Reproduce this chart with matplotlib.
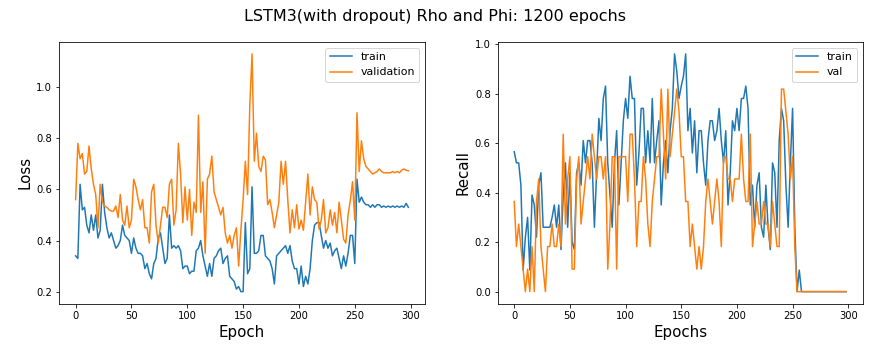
import matplotlib
matplotlib.use('Agg')
import matplotlib.pyplot as plt
import numpy as np

# epochs sampled every 2
epochs = np.arange(0, 300, 2)

loss_train = [
    0.34, 0.33, 0.62, 0.52, 0.53, 0.46, 0.43, 0.50, 0.44, 0.50,
    0.41, 0.44, 0.62, 0.51, 0.45, 0.41, 0.43, 0.40, 0.37, 0.38,
    0.40, 0.46, 0.42, 0.41, 0.40, 0.35, 0.41, 0.37, 0.35, 0.35,
    0.34, 0.29, 0.31, 0.27, 0.25, 0.31, 0.33, 0.41, 0.43, 0.37,
    0.31, 0.33, 0.50, 0.37, 0.38, 0.37, 0.38, 0.36, 0.29, 0.30,
    0.30, 0.27, 0.28, 0.28, 0.36, 0.37, 0.40, 0.34, 0.30, 0.26,
    0.31, 0.26, 0.33, 0.34, 0.36, 0.37, 0.31, 0.33, 0.34, 0.26,
    0.25, 0.24, 0.21, 0.22, 0.20, 0.20, 0.47, 0.27, 0.29, 0.61,
    0.35, 0.35, 0.36, 0.42, 0.42, 0.34, 0.33, 0.32, 0.29, 0.23,
    0.34, 0.35, 0.36, 0.37, 0.38, 0.35, 0.38, 0.32, 0.29, 0.29,
    0.23, 0.30, 0.22, 0.26, 0.23, 0.29, 0.40, 0.46, 0.47, 0.47,
    0.42, 0.37, 0.40, 0.37, 0.39, 0.34, 0.36, 0.37, 0.33, 0.29,
    0.34, 0.30, 0.35, 0.42, 0.42, 0.31, 0.64, 0.55, 0.57, 0.55,
    0.54, 0.54, 0.53, 0.54, 0.53, 0.54, 0.54, 0.53, 0.535, 0.53,
    0.535, 0.53, 0.535, 0.53, 0.535, 0.53, 0.535, 0.53, 0.545, 0.53,
]

loss_val = [
    0.56, 0.78, 0.72, 0.74, 0.66, 0.67, 0.77, 0.68, 0.62, 0.58,
    0.45, 0.62, 0.55, 0.535, 0.53, 0.52, 0.515, 0.515, 0.535, 0.49,
    0.58, 0.48, 0.46, 0.535, 0.45, 0.48, 0.64, 0.61, 0.56, 0.52,
    0.56, 0.45, 0.45, 0.39, 0.59, 0.62, 0.46, 0.39, 0.46, 0.53,
    0.53, 0.49, 0.62, 0.64, 0.46, 0.52, 0.78, 0.66, 0.47, 0.61,
    0.48, 0.60, 0.42, 0.55, 0.51, 0.89, 0.51, 0.63, 0.35, 0.64,
    0.66, 0.73, 0.59, 0.56, 0.53, 0.50, 0.53, 0.43, 0.39, 0.42,
    0.37, 0.42, 0.45, 0.30, 0.44, 0.56, 0.71, 0.58, 0.93, 1.13,
    0.71, 0.82, 0.69, 0.67, 0.73, 0.715, 0.54, 0.56, 0.51, 0.45,
    0.50, 0.55, 0.71, 0.62, 0.71, 0.56, 0.43, 0.52, 0.45, 0.54,
    0.445, 0.48, 0.44, 0.55, 0.66, 0.50, 0.61, 0.56, 0.55, 0.445,
    0.48, 0.56, 0.43, 0.45, 0.52, 0.46, 0.51, 0.43, 0.55, 0.48,
    0.405, 0.39, 0.50, 0.556, 0.63, 0.48, 0.90, 0.67, 0.79, 0.72,
    0.69, 0.68, 0.67, 0.66, 0.665, 0.67, 0.68, 0.67, 0.665, 0.665,
    0.665, 0.665, 0.67, 0.665, 0.67, 0.665, 0.675, 0.68, 0.675, 0.673,
]

recall_train = [
    0.565, 0.52, 0.52, 0.43, 0.087, 0.22, 0.30, 0.087, 0.39, 0.35,
    0.22, 0.43, 0.48, 0.26, 0.26, 0.26, 0.26, 0.30, 0.35, 0.26,
    0.35, 0.17, 0.39, 0.52, 0.26, 0.48, 0.20, 0.17, 0.48, 0.52,
    0.43, 0.61, 0.52, 0.61, 0.61, 0.52, 0.26, 0.48, 0.70, 0.61,
    0.78, 0.83, 0.52, 0.39, 0.26, 0.52, 0.65, 0.35, 0.52, 0.69,
    0.78, 0.70, 0.87, 0.78, 0.78, 0.43, 0.56, 0.74, 0.74, 0.52,
    0.65, 0.52, 0.78, 0.52, 0.61, 0.69, 0.35, 0.52, 0.61, 0.48,
    0.65, 0.74, 0.96, 0.89, 0.78, 0.83, 0.87, 0.96, 0.65, 0.74,
    0.56, 0.69, 0.48, 0.65, 0.65, 0.52, 0.43, 0.61, 0.69, 0.69,
    0.61, 0.65, 0.74, 0.61, 0.52, 0.65, 0.35, 0.48, 0.69, 0.65,
    0.74, 0.65, 0.78, 0.78, 0.83, 0.74, 0.35, 0.43, 0.26, 0.43,
    0.48, 0.26, 0.22, 0.43, 0.26, 0.17, 0.52, 0.48, 0.26, 0.61,
    0.74, 0.69, 0.43, 0.26, 0.52, 0.74, 0.26, 0.0, 0.087, 0.0,
    0.0, 0.0, 0.0, 0.0, 0.0, 0.0, 0.0, 0.0, 0.0, 0.0,
    0.0, 0.0, 0.0, 0.0, 0.0, 0.0, 0.0, 0.0, 0.0, 0.0,
]

recall_val = [
    0.364, 0.182, 0.273, 0.182, 0.091, 0.0, 0.091, 0.0, 0.182, 0.0,
    0.364, 0.455, 0.182, 0.091, 0.0, 0.182, 0.182, 0.273, 0.182, 0.182,
    0.273, 0.182, 0.636, 0.273, 0.455, 0.545, 0.091, 0.091, 0.455, 0.545,
    0.273, 0.364, 0.455, 0.545, 0.455, 0.636, 0.545, 0.455, 0.545, 0.545,
    0.455, 0.545, 0.091, 0.273, 0.545, 0.545, 0.091, 0.545, 0.545, 0.545,
    0.545, 0.364, 0.636, 0.636, 0.455, 0.182, 0.364, 0.364, 0.545, 0.455,
    0.273, 0.182, 0.364, 0.455, 0.545, 0.545, 0.818, 0.636, 0.455, 0.818,
    0.545, 0.636, 0.727, 0.818, 0.727, 0.545, 0.545, 0.364, 0.364, 0.182,
    0.273, 0.182, 0.091, 0.182, 0.091, 0.182, 0.364, 0.455, 0.364, 0.273,
    0.364, 0.455, 0.364, 0.182, 0.545, 0.545, 0.455, 0.455, 0.364, 0.455,
    0.455, 0.455, 0.636, 0.455, 0.364, 0.364, 0.636, 0.182, 0.273, 0.364,
    0.273, 0.273, 0.364, 0.273, 0.273, 0.182, 0.364, 0.273, 0.182, 0.182,
    0.818, 0.818, 0.727, 0.636, 0.455, 0.545, 0.182, 0.0, 0.0, 0.0,
    0.0, 0.0, 0.0, 0.0, 0.0, 0.0, 0.0, 0.0, 0.0, 0.0,
    0.0, 0.0, 0.0, 0.0, 0.0, 0.0, 0.0, 0.0, 0.0, 0.0,
]

fig = plt.figure(figsize=(870 / 72, 355 / 72), dpi=72)
fig.suptitle('LSTM3(with dropout) Rho and Phi: 1200 epochs', fontsize=16, y=0.975)

ax1 = fig.add_axes([0.0678, 0.145, 0.4207, 0.7366])
ax1.plot(epochs, loss_train, label='train')
ax1.plot(epochs, loss_val, label='validation')
ax1.set_xlabel('Epoch', fontsize=15)
ax1.set_ylabel('Loss', fontsize=15)
ax1.legend(loc='upper right', fontsize=11)

ax2 = fig.add_axes([0.572, 0.145, 0.4195, 0.7366])
ax2.plot(epochs, recall_train, label='train')
ax2.plot(epochs, recall_val, label='val')
ax2.set_xlabel('Epochs', fontsize=15)
ax2.set_ylabel('Recall', fontsize=15)
ax2.legend(loc='upper right', fontsize=11)

fig.savefig('out.png', dpi=72)
